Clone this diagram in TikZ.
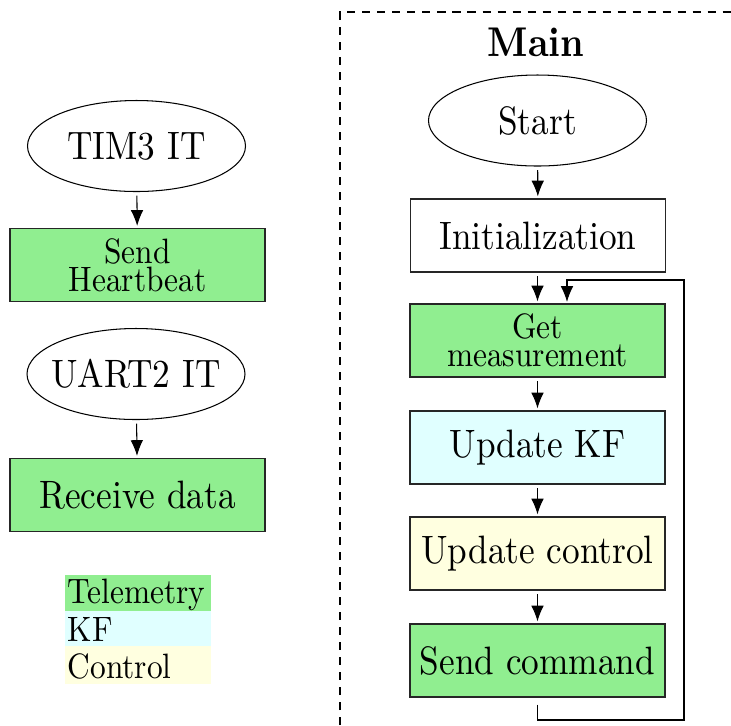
\documentclass[tikz,border=0pt]{standalone}
\usepackage{fontspec}
\setmainfont{lmroman10-regular.otf}[FakeStretch=0.89,BoldFont=lmroman10-bold.otf]
\usetikzlibrary{arrows.meta,shapes.geometric}
\definecolor{tele}{HTML}{90EE90}
\definecolor{kfc}{HTML}{E0FFFF}
\definecolor{ctrl}{HTML}{FFFFE0}
\begin{document}
\begin{tikzpicture}[x=0.2865pt,y=-0.2865pt,
  ev/.style={ellipse,draw=black,line width=0.3pt,minimum width=218*0.2865pt,minimum height=91*0.2865pt,inner xsep=-20pt,inner ysep=0pt,font=\fontsize{11.35}{13}\selectfont},
  blk/.style={rectangle,draw=black!85,line width=0.3pt,minimum width=255*0.2865pt,minimum height=73*0.2865pt,inner sep=0pt,align=center,font=\fontsize{11.35}{13}\selectfont},
  blks/.style={blk,font=\fontsize{10.1}{8.1}\selectfont},
  arr/.style={-{Latex[length=4.5pt,width=3.6pt]},line width=0.3pt,shorten <=1pt,shorten >=0.6pt},
  leg/.style={anchor=west,inner sep=0pt,font=\fontsize{10.1}{12}\selectfont}]
\useasboundingbox (0,0) rectangle (731,725);
% dashed frame
\draw[line width=0.3pt,dash pattern=on 2.3pt off 2pt] (340,725) -- (340,12) -- (731,12);
\node[font=\fontsize{11.9}{13}\selectfont\bfseries] (title) at (536,42) {Main};
% left column
\node[ev] (tim) at (136.5,146) {TIM3 IT};
\node[blks,fill=tele] (hb) at (137.5,265) {Send\\Heartbeat};
\node[ev] (uart) at (136,374) {UART2 IT};
\node[blk,fill=tele] (rx) at (137.5,495) {Receive data};
\draw[arr] (tim) -- (hb);
\draw[arr] (uart) -- (rx);
% legend
\fill[tele] (65,575) rectangle (211,611);
\fill[kfc] (65,611) rectangle (211,646);
\fill[ctrl] (65,646) rectangle (211,684);
\node[leg] (lt) at (67,595) {Telemetry};
\node[leg] (lk) at (67,629) {KF};
\node[leg] (lc) at (67,666) {Control};
% main column
\node[ev] (start) at (537.5,120.5) {Start};
\node[blk] (init) at (538,235.5) {Initialization};
\node[blks,fill=tele] (get) at (537.5,340.5) {Get\\measurement};
\node[blk,fill=kfc] (kf) at (537.5,447.5) {Update KF};
\node[blk,fill=ctrl] (ctl) at (537.5,553.5) {Update control};
\node[blk,fill=tele] (cmd) at (537.5,660.5) {Send command};
\draw[arr] (start) -- (init);
\draw[arr] (init.south -| get.north) -- (get);
\draw[arr] (get) -- (kf);
\draw[arr] (kf) -- (ctl);
\draw[arr] (ctl) -- (cmd);
\coordinate (lb) at (684,720);
\coordinate (lt2) at (684,280);
\draw[arr,shorten <=2pt] (cmd.south) -- (cmd.south |- lb) -- (lb) -- (lt2) -- (567,280) -- (567,304);
\end{tikzpicture}
\end{document}
